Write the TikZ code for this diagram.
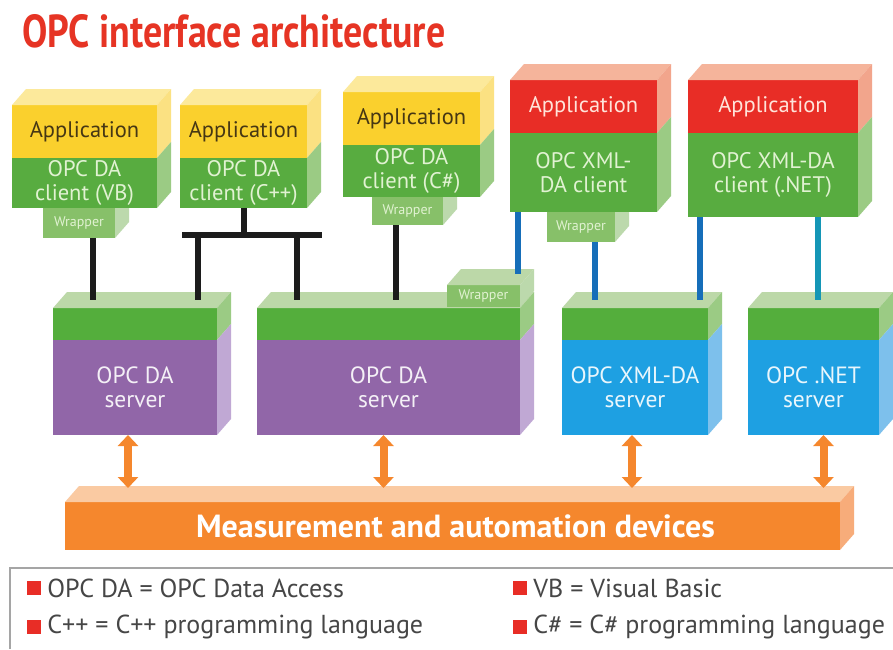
\documentclass[tikz,border=0pt]{standalone}
\usepackage{fontspec}
\setmainfont{PT Sans}
\usetikzlibrary{positioning,arrows.meta}

\definecolor{titlered}{RGB}{230,52,36}
\definecolor{appyellow}{RGB}{250,208,45}
\definecolor{yellowtop}{RGB}{252,233,155}
\definecolor{yellowside}{RGB}{251,225,130}
\definecolor{apptext}{RGB}{70,55,20}
\definecolor{appred}{RGB}{232,45,38}
\definecolor{redtop}{RGB}{245,180,155}
\definecolor{redside}{RGB}{242,165,140}
\definecolor{redtext}{RGB}{255,228,218}
\definecolor{clgreen}{RGB}{88,172,64}
\definecolor{clside}{RGB}{155,203,132}
\definecolor{cltext}{RGB}{225,242,210}
\definecolor{wrapgreen}{RGB}{135,192,105}
\definecolor{wrapside}{RGB}{188,217,172}
\definecolor{srvgreen}{RGB}{84,174,60}
\definecolor{srvtop}{RGB}{188,216,168}
\definecolor{srvpurple}{RGB}{145,102,168}
\definecolor{purpleside}{RGB}{192,168,212}
\definecolor{srvblue}{RGB}{30,160,226}
\definecolor{blueside}{RGB}{125,192,236}
\definecolor{barorange}{RGB}{245,135,45}
\definecolor{orangetop}{RGB}{250,202,162}
\definecolor{orangeside}{RGB}{247,172,122}
\definecolor{linkblack}{RGB}{28,28,28}
\definecolor{linkblue}{RGB}{22,110,185}
\definecolor{linkteal}{RGB}{20,150,182}
\definecolor{legtext}{RGB}{70,70,70}
\definecolor{legline}{RGB}{165,165,165}

% depth of the blocks
\newcommand{\dpx}{14}
\newcommand{\dpy}{16}
\newcommand{\topface}[2]{\fill[#2] (#1.north west) -- ++(\dpx,-\dpy) -- ([shift={(\dpx,-\dpy)}]#1.north east) -- (#1.north east) -- cycle;}
\newcommand{\sideface}[2]{\fill[#2] (#1.north east) -- ++(\dpx,-\dpy) -- ([shift={(\dpx,-\dpy)}]#1.south east) -- (#1.south east) -- cycle;}

\tikzset{
face/.style={anchor=north west,inner sep=0pt,outer sep=0pt,align=center,
  font=\fontsize{22.5}{24}\selectfont},
app/.style={face,fill=appyellow,text=apptext},
appr/.style={face,fill=appred,text=redtext},
client/.style={face,fill=clgreen,text=cltext},
wrap/.style={face,fill=wrapgreen,text=cltext,font=\fontsize{14}{14}\selectfont},
band/.style={face,fill=srvgreen,minimum height=32pt},
server/.style={face,fill=srvpurple,text=white!90!srvpurple,minimum height=95pt,
  font=\fontsize{23.5}{24}\selectfont},
bserver/.style={server,fill=srvblue,text=white!90!srvblue},
link/.style={line width=6pt,draw=linkblack},
blink/.style={line width=6pt,draw=linkblue},
dbl/.style={line width=8pt,draw=barorange,
  {Triangle[width=20pt,length=11pt]}-{Triangle[width=20pt,length=11pt]}},
legsq/.style={fill=appred,minimum size=14pt,inner sep=0pt},
legtxt/.style={text=legtext,inner sep=0pt,anchor=west,font=\fontsize{26}{26}\selectfont}
}

\begin{document}
\begin{tikzpicture}[x=1pt,y=-1pt]
\useasboundingbox (0,0) rectangle (893,649);
\fill[white] (0,0) rectangle (893,649);

\node[anchor=west,inner sep=0pt,text=titlered] (title) at (22,31)
  {\resizebox{423pt}{33pt}{\bfseries OPC interface architecture}};

% wrappers under the clients
\node[wrap,minimum width=72pt,minimum height=30pt] (w1) at (43,208) {Wrapper};
\sideface{w1}{wrapside}
\node[wrap,minimum width=71pt,minimum height=28pt] (w3) at (372,197) {Wrapper};
\sideface{w3}{wrapside}
\node[wrap,minimum width=68pt,minimum height=30pt] (w4) at (547,212) {Wrapper};
\sideface{w4}{wrapside}

% clients
\node[app,minimum width=145pt,minimum height=53pt] (a1) at (12,105) {Application};
\node[client,minimum width=145pt,minimum height=50pt] (c1) at (a1.south west) {OPC DA\\client (VB)};
\topface{a1}{yellowtop} \sideface{a1}{yellowside} \sideface{c1}{clside}

\node[app,minimum width=127pt,minimum height=53pt] (a2) at (180,105) {Application};
\node[client,minimum width=127pt,minimum height=50pt] (c2) at (a2.south west) {OPC DA\\client (C++)};
\topface{a2}{yellowtop} \sideface{a2}{yellowside} \sideface{c2}{clside}

\node[app,minimum width=137pt,minimum height=53pt] (a3) at (343,92) {Application};
\node[client,minimum width=137pt,minimum height=52pt] (c3) at (a3.south west) {OPC DA\\client (C\#)};
\topface{a3}{yellowtop} \sideface{a3}{yellowside} \sideface{c3}{clside}

\node[appr,minimum width=147pt,minimum height=53pt] (a4) at (510,80) {Application};
\node[client,minimum width=147pt,minimum height=79pt] (c4) at (a4.south west) {OPC XML-\\DA client};
\topface{a4}{redtop} \sideface{a4}{redside} \sideface{c4}{clside}

\node[appr,minimum width=170pt,minimum height=53pt] (a5) at (688,80) {Application};
\node[client,minimum width=170pt,minimum height=84pt] (c5) at (a5.south west) {OPC XML-DA\\client (.NET)};
\topface{a5}{redtop} \sideface{a5}{redside} \sideface{c5}{clside}

% servers
\node[band,minimum width=164pt] (g1) at (53,308) {};
\node[server,minimum width=164pt] (s1) at (g1.south west) {OPC DA\\server};
\topface{g1}{srvtop} \sideface{g1}{clside} \sideface{s1}{purpleside}

\node[band,minimum width=263pt] (g2) at (257,308) {};
\node[server,minimum width=263pt] (s2) at (g2.south west) {OPC DA\\server};
\topface{g2}{srvtop} \sideface{g2}{clside} \sideface{s2}{purpleside}
\node[wrap,minimum width=73pt,minimum height=22pt] (w2) at (447,285) {Wrapper};
\topface{w2}{srvtop} \sideface{w2}{wrapside}

\node[band,minimum width=146pt] (g3) at (562,308) {};
\node[bserver,minimum width=146pt] (s3) at (g3.south west) {OPC XML-DA\\server};
\topface{g3}{srvtop} \sideface{g3}{clside} \sideface{s3}{blueside}

\node[band,minimum width=131pt] (g4) at (748,308) {};
\node[bserver,minimum width=131pt] (s4) at (g4.south west) {OPC .NET\\server};
\topface{g4}{srvtop} \sideface{g4}{clside} \sideface{s4}{blueside}

% devices
\node[face,fill=barorange,minimum width=775pt,minimum height=48pt] (bar) at (65,502) {};
\topface{bar}{orangetop} \sideface{bar}{orangeside}
\node[text=white,font=\bfseries\fontsize{32}{32}\selectfont] (devices) at ([xshift=3pt]bar.center)
  {Measurement and automation devices};

% connectors
\coordinate (srvtop) at (0,300);
\coordinate (wraptop) at (0,274);
\coordinate (bartop) at (0,488);
\coordinate (bus) at (0,235);
\coordinate (busl) at (182,235);
\coordinate (busr) at (322,235);
\coordinate (tapa) at (198,235);
\coordinate (tapb) at (297,235);

\draw[link] ([xshift=14pt]w1.south) -- ([xshift=14pt]w1.south |- srvtop);
\draw[link] (c2.south) -- (c2.south |- bus);
\draw[link] (busl) -- (busr);
\draw[link] (tapa) -- (tapa |- srvtop);
\draw[link] (tapb) -- (tapb |- srvtop);
\draw[link] ([xshift=-12pt]w3.south) -- ([xshift=-12pt]w3.south |- srvtop);
\draw[blink] ([xshift=8pt]c4.south west) -- ([xshift=8pt]c4.south west |- wraptop);
\draw[blink] ([xshift=14pt]w4.south) -- ([xshift=14pt]w4.south |- srvtop);
\draw[blink] ([xshift=12pt]c5.south west) -- ([xshift=12pt]c5.south west |- srvtop);
\draw[blink,draw=linkteal] ([xshift=-40pt]c5.south east) -- ([xshift=-40pt]c5.south east |- srvtop);

\draw[dbl] ([xshift=-7pt]s1.south) -- ([xshift=-7pt]s1.south |- bartop);
\draw[dbl] ([xshift=-5pt]s2.south) -- ([xshift=-5pt]s2.south |- bartop);
\draw[dbl] ([xshift=-3pt]s3.south) -- ([xshift=-3pt]s3.south |- bartop);
\draw[dbl] ([xshift=10pt]s4.south) -- ([xshift=10pt]s4.south |- bartop);

% legend
\draw[legline,line width=1.5pt] (10,649) -- (10,568) -- (893,568);
\node[legsq] (k1) at (34,588) {};
\node[legtxt,right=6pt of k1] (t1) {OPC DA = OPC Data Access};
\node[legsq] (k2) at (34,627) {};
\node[legtxt,right=6pt of k2] (t2) {C++ = C++ programming language};
\node[legsq] (k3) at (520,588) {};
\node[legtxt,right=6pt of k3] (t3) {VB = Visual Basic};
\node[legsq] (k4) at (520,627) {};
\node[legtxt,right=6pt of k4] (t4) {C\# = C\# programming language};
\end{tikzpicture}
\end{document}
